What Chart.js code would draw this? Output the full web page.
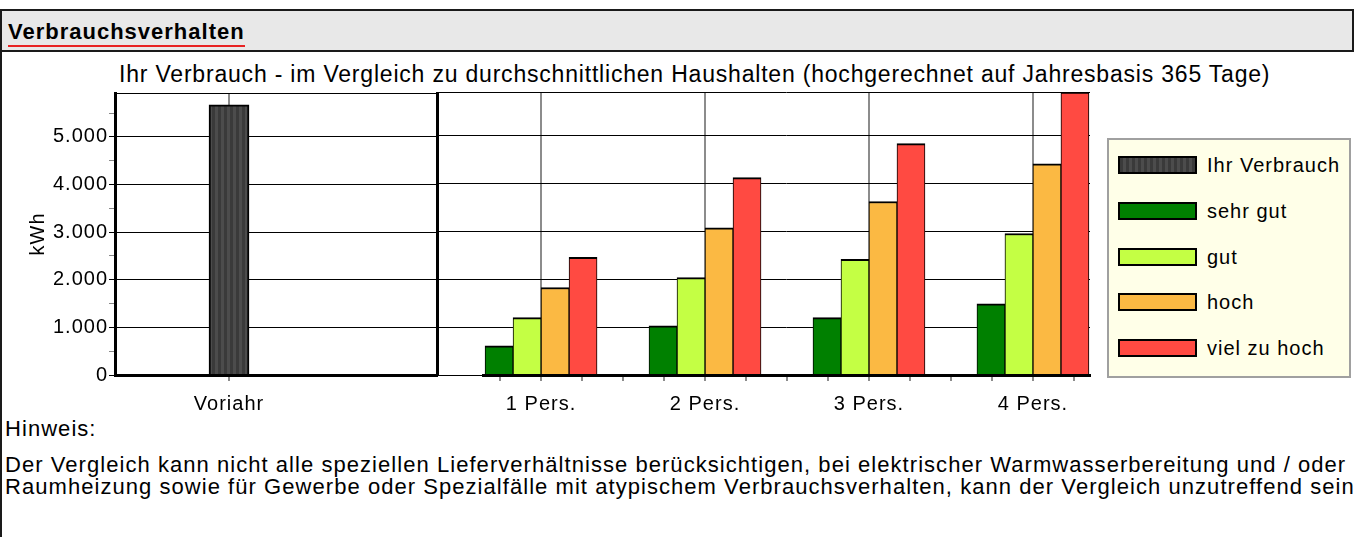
<!DOCTYPE html>
<html>
<head>
<meta charset="utf-8">
<script src="https://cdn.jsdelivr.net/npm/chart.js@4/dist/chart.umd.min.js"></script>
<style>
body { margin: 0; width: 1354px; height: 537px; position: relative; overflow: hidden; background: #fff; font-family: "Liberation Sans", Arial, sans-serif; color: #000; }
#head { position: absolute; left: 0; top: 9px; width: 1354px; height: 43px; box-sizing: border-box; background: #e8e8e8; border: 2px solid #1a1a1a; }
#head span { position: absolute; left: 6px; top: 8px; font-weight: bold; font-size: 22px; line-height: 26px; letter-spacing: 1px; border-bottom: 2px solid #e82323; }
#edge { position: absolute; left: 0; top: 52px; width: 2px; height: 485px; background: #1a1a1a; }
#title { position: absolute; left: 119px; top: 61px; font-size: 23px; line-height: 26px; letter-spacing: 0.8px; white-space: nowrap; }
canvas { position: absolute; }
#c1 { left: 2px; top: 80px; }
#c2 { left: 437px; top: 80px; }
#legend { position: absolute; left: 1107px; top: 138px; width: 244px; height: 240px; box-sizing: border-box; background: #ffffe8; border: 2px solid #a0a0a0; }
#legend .sw { position: absolute; left: 9px; width: 79px; height: 18px; box-sizing: border-box; border: 2px solid #000; }
#legend .tx { position: absolute; left: 98px; font-size: 20px; line-height: 24px; letter-spacing: 1px; white-space: nowrap; }
.note { position: absolute; left: 5px; font-size: 22px; line-height: 22px; letter-spacing: 1.05px; white-space: nowrap; }
</style>
</head>
<body>
<div id="head"><span>Verbrauchsverhalten</span></div>
<div id="edge"></div>
<div id="title">Ihr Verbrauch - im Vergleich zu durchschnittlichen Haushalten (hochgerechnet auf Jahresbasis 365 Tage)</div>
<canvas id="c1" width="442" height="336"></canvas>
<canvas id="c2" width="663" height="336"></canvas>
<div id="legend"></div>
<div class="note" style="top:418px">Hinweis:</div>
<div class="note" style="top:454px">Der Vergleich kann nicht alle speziellen Lieferverhältnisse berücksichtigen, bei elektrischer Warmwasserbereitung und / oder</div>
<div class="note" style="top:476px">Raumheizung sowie für Gewerbe oder Spezialfälle mit atypischem Verbrauchsverhalten, kann der Vergleich unzutreffend sein</div>
<script>
'use strict';

// chart values (kWh)
var periods = ['Voriahr'];
var yourUsage = [5670];

var households = ['1 Pers.', '2 Pers.', '3 Pers.', '4 Pers.'];
var veryGood = [610, 1030, 1200, 1490];
var good = [1200, 2040, 2420, 2960];
var high = [1830, 3080, 3630, 4420];
var tooHigh = [2460, 4130, 4840, 5920];

var yTicks = [0, 500, 1000, 1500, 2000, 2500, 3000, 3500, 4000, 4500, 5000, 5500];

// axis top = largest value
var yMax = Math.max.apply(null, yourUsage.concat(veryGood, good, high, tooHigh));

var FONT = { family: '"Liberation Sans", Arial, sans-serif', size: 20 };

var formatKwh = function(v) {
	return String(v).replace(/\B(?=(\d{3})+(?!\d))/g, '.');
};

var isMajor = function(v) {
	return v === yMax || v % 1000 === 0;
};

var toPoints = function(values) {
	return values.map(function(v, i) { return { x: i, y: v }; });
};

// wider text like the original renderer
var spacedText = {
	id: 'spacedText',
	beforeLayout: function(chart) { chart.ctx.letterSpacing = '1px'; },
	beforeDraw: function(chart) { chart.ctx.letterSpacing = '1px'; }
};

// x axis line drawn over the bar bottoms
var axisOnTop = {
	id: 'axisOnTop',
	afterDatasetsDraw: function(chart) {
		var x = chart.scales.x;
		if (x && x.drawBorder) x.drawBorder();
	}
};

var fixWidth = function(w) { return function(axis) { axis.width = w; }; };
var fixHeight = function(h) { return function(axis) { axis.height = h; }; };

var barBorder = { top: 2, left: 1, right: 1, bottom: 0 };

// striped fill for "Ihr Verbrauch"
var stripe = document.createElement('canvas');
stripe.width = 6;
stripe.height = 1;
var sctx = stripe.getContext('2d');
sctx.fillStyle = '#3a3a3a';
sctx.fillRect(0, 0, 6, 1);
sctx.fillStyle = '#4c4c4c';
sctx.fillRect(3, 0, 3, 1);
var c1 = document.getElementById('c1');
var usagePattern = c1.getContext('2d').createPattern(stripe, 'repeat');

// left part: own consumption last year
var leftChart = new Chart(c1, {
	type: 'bar',
	data: {
		datasets: [{
			label: 'Ihr Verbrauch',
			data: toPoints(yourUsage),
			backgroundColor: usagePattern,
			borderColor: '#000',
			borderWidth: { top: 2, left: 2, right: 2, bottom: 0 },
			barThickness: 40
		}]
	},
	options: {
		responsive: false,
		animation: false,
		layout: { padding: { top: 12, left: 0, right: 0, bottom: 0 } },
		plugins: { legend: { display: false }, tooltip: { enabled: false } },
		scales: {
			x: {
				type: 'linear',
				min: -0.695,
				max: 1.268,
				offset: false,
				afterBuildTicks: function(axis) {
					axis.ticks = periods.map(function(p, i) { return { value: i }; });
				},
				afterFit: fixHeight(41),
				ticks: {
					autoSkip: false,
					maxRotation: 0,
					padding: 11,
					color: '#000',
					font: FONT,
					callback: function(v) { return periods[v]; }
				},
				grid: { offset: false, color: '#8c8c8c', tickColor: '#8c8c8c', tickLength: 6, lineWidth: 2 },
				border: { display: true, color: '#000', width: 3 }
			},
			y: {
				min: 0,
				max: yMax,
				afterBuildTicks: function(axis) {
					axis.ticks = yTicks.concat([yMax]).map(function(v) { return { value: v }; });
				},
				afterFit: fixWidth(113),
				title: { display: true, text: 'kWh', color: '#000', font: FONT, padding: { top: 24, bottom: 0 } },
				ticks: {
					autoSkip: false,
					padding: 1,
					color: '#000',
					font: FONT,
					callback: function(v) { return (v % 1000 === 0) ? formatKwh(v) : ''; }
				},
				grid: {
					color: function(ctx) { return isMajor(ctx.tick.value) ? '#000' : 'rgba(0,0,0,0)'; },
					tickColor: function(ctx) {
						var v = ctx.tick.value;
						if (v === yMax) return 'rgba(0,0,0,0)';
						return v % 1000 === 0 ? '#000' : '#888';
					},
					tickLength: 6,
					lineWidth: 1
				},
				border: { display: true, color: '#000', width: 3 }
			},
			y2: {
				position: 'right',
				afterFit: fixWidth(7),
				grid: { display: false },
				ticks: { display: false },
				border: { display: true, color: '#000', width: 3 }
			}
		}
	},
	plugins: [spacedText, axisOnTop]
});

// right part: comparison households
var rightChart = new Chart(document.getElementById('c2'), {
	type: 'bar',
	data: {
		datasets: [
			{ label: 'sehr gut', data: toPoints(veryGood), backgroundColor: '#008000' },
			{ label: 'gut', data: toPoints(good), backgroundColor: '#c4ff44' },
			{ label: 'hoch', data: toPoints(high), backgroundColor: '#fbb943' },
			{ label: 'viel zu hoch', data: toPoints(tooHigh), backgroundColor: '#ff4a42' }
		]
	},
	options: {
		responsive: false,
		animation: false,
		layout: { padding: { top: 12, left: 0, right: 10, bottom: 0 } },
		datasets: { bar: { barThickness: 28, borderColor: '#000', borderWidth: barBorder } },
		plugins: { legend: { display: false }, tooltip: { enabled: false } },
		scales: {
			x: {
				type: 'linear',
				min: -0.354,
				max: households.length - 1 + 0.348,
				offset: false,
				afterBuildTicks: function(axis) {
					var t = [];
					for (var v = -0.25; v <= households.length - 0.75; v += 0.25) t.push({ value: v });
					axis.ticks = t;
				},
				afterFit: fixHeight(41),
				ticks: {
					autoSkip: false,
					maxRotation: 0,
					padding: 11,
					color: '#000',
					font: FONT,
					callback: function(v) { return Number.isInteger(v) ? households[v] : ''; }
				},
				grid: {
					offset: false,
					color: function(ctx) { return Number.isInteger(ctx.tick.value) ? '#8c8c8c' : 'rgba(0,0,0,0)'; },
					tickColor: '#8c8c8c',
					tickLength: 6,
					lineWidth: 2
				},
				border: { display: true, color: '#000', width: 3 }
			},
			y: {
				min: 0,
				max: yMax,
				afterBuildTicks: function(axis) {
					axis.ticks = yTicks.concat([yMax]).map(function(v) { return { value: v }; });
				},
				afterFit: fixWidth(46),
				ticks: { display: false },
				grid: {
					color: function(ctx) { return isMajor(ctx.tick.value) ? '#000' : 'rgba(0,0,0,0)'; },
					tickColor: function(ctx) { return isMajor(ctx.tick.value) ? '#000' : 'rgba(0,0,0,0)'; },
					tickLength: 46,
					lineWidth: 1
				},
				border: { display: false }
			}
		}
	},
	plugins: [spacedText, axisOnTop]
});

// legend box built from both charts' datasets
var legendBox = document.getElementById('legend');
var allSets = leftChart.data.datasets.concat(rightChart.data.datasets);
allSets.forEach(function(ds, i) {
	var top = 16 + i * 45.75;
	var sw = document.createElement('div');
	sw.className = 'sw';
	sw.style.top = top + 'px';
	sw.style.background = (typeof ds.backgroundColor === 'string')
		? ds.backgroundColor
		: 'repeating-linear-gradient(90deg, #3a3a3a 0 3px, #4c4c4c 3px 6px)';
	var tx = document.createElement('div');
	tx.className = 'tx';
	tx.style.top = (top - 3) + 'px';
	tx.textContent = ds.label;
	legendBox.appendChild(sw);
	legendBox.appendChild(tx);
});
</script>
</body>
</html>
